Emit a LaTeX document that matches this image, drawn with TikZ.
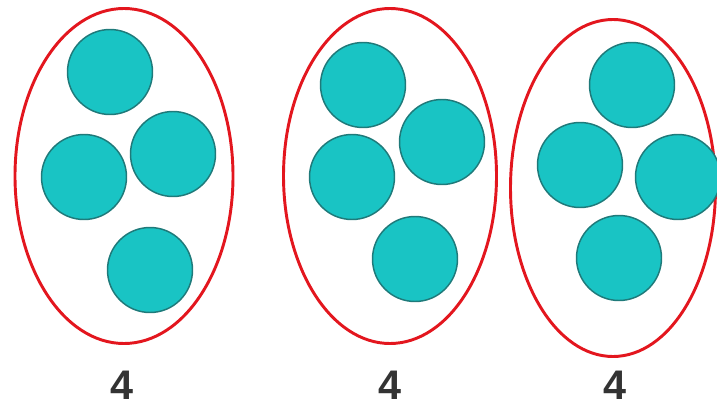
\documentclass[tikz,border=0pt]{standalone}
\usepackage{fontspec}
\setmainfont{Liberation Sans}
\usetikzlibrary{shapes.geometric}
\definecolor{beadfill}{HTML}{19C4C4}
\definecolor{beadline}{HTML}{1F7A7A}
\definecolor{ringred}{HTML}{E3161E}
\definecolor{digitgray}{HTML}{333333}

\begin{document}
\begin{tikzpicture}[x=0.75pt, y=-0.75pt,
  bead/.style={circle, draw=beadline, fill=beadfill, line width=1.1pt, minimum size=63.75pt, inner sep=0pt},
  ring/.style={ellipse, draw=ringred, line width=2.2pt, inner sep=0pt},
  tally/.style={text=digitgray, font=\fontsize{31}{31}\selectfont\bfseries, inner sep=0pt}]
\useasboundingbox (0,0) rectangle (717,407);
% first group
\node[ring, minimum width=163.5pt, minimum height=251.25pt] (g1) at (124,176) {};
\node[bead] (g1a) at (110,72) {};
\node[bead] (g1b) at (84,177) {};
\node[bead] (g1c) at (173,154) {};
\node[bead] (g1d) at (150,270) {};
\node[tally] (n1) at (122,385) {4};
% second group
\node[ring, minimum width=159.75pt, minimum height=251.25pt] (g2) at (390,176) {};
\node[bead] (g2a) at (363,85) {};
\node[bead] (g2b) at (352,177) {};
\node[bead] (g2c) at (442,142) {};
\node[bead] (g2d) at (415,259) {};
\node[tally] (n2) at (390,385) {4};
% third group
\node[ring, minimum width=153.75pt, minimum height=252.75pt] (g3) at (613,188) {};
\node[bead] (g3a) at (632,85) {};
\node[bead] (g3b) at (580,165) {};
\node[bead] (g3c) at (678,177) {};
\node[bead] (g3d) at (619,258) {};
\node[tally] (n3) at (615,385) {4};
\end{tikzpicture}
\end{document}
